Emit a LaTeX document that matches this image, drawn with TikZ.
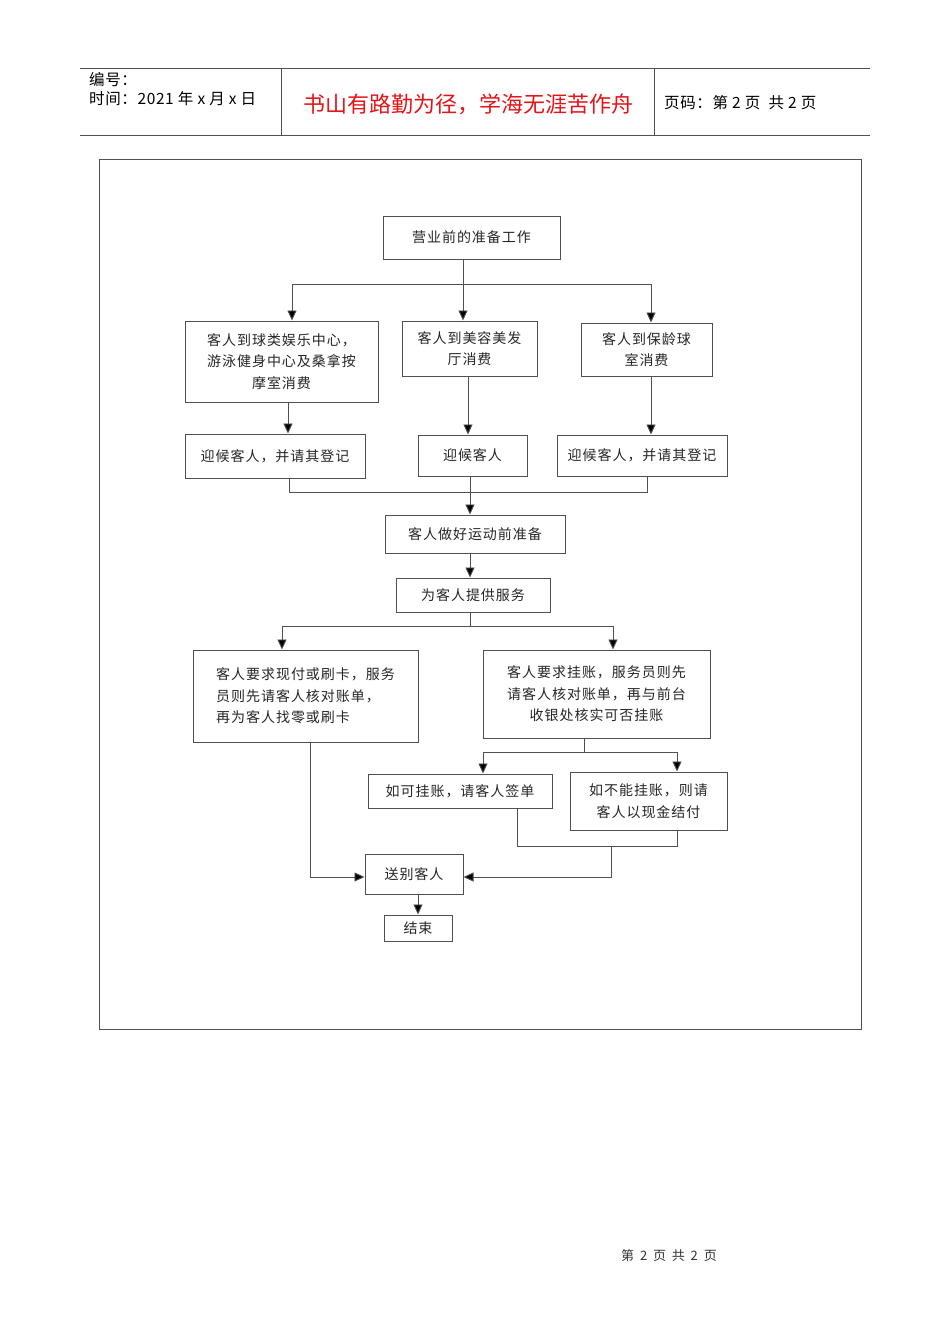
\documentclass[tikz,border=0pt]{standalone}
\usepackage{fontspec}
\usetikzlibrary{arrows.meta}
\newfontfamily\cjk{Noto Sans CJK SC}
\newfontfamily\cjkbox[LetterSpace=7]{Noto Sans CJK SC}
\newfontfamily\cjkhdr[LetterSpace=4]{Noto Sans CJK SC}
\newfontfamily\cjkbold[AutoFakeBold=1.5]{Noto Sans CJK SC}
\definecolor{hdrred}{RGB}{228,20,24}
\definecolor{linegray}{RGB}{80,80,80}
\tikzset{
  box/.style={draw=linegray, line width=1pt, rectangle, inner sep=0pt, align=center,
    font=\cjkbox\fontsize{14}{21.5}\selectfont, text=black!85},
  ln/.style={draw=linegray, line width=0.9pt},
  arr/.style={ln, -{Triangle[length=10pt,width=9pt,fill=black]}},
  frame/.style={draw=linegray, line width=1pt},
  hdr/.style={inner sep=0pt, font=\cjkhdr\fontsize{15.5}{18}\selectfont, anchor=west}
}
\begin{document}
\begin{tikzpicture}[x=1pt,y=-1pt]
\useasboundingbox (0,0) rectangle (950,1344);
\fill[white] (0,0) rectangle (950,1344);
% header
\draw[frame] (80,68) -- (870,68);
\draw[frame, line width=1.2pt] (80,135.5) -- (870,135.5);
\draw[frame] (281,68) -- (281,135.5);
\draw[frame] (654,68) -- (654,135.5);
\node[hdr] (h1) at (89,80) {编号：};
\node[hdr] (h2) at (89,99) {时间：2021 年 x 月 x 日};
\node[inner sep=0pt, font=\cjkbold\fontsize{22}{26}\selectfont, text=hdrred] (h3) at (468,104) {书山有路勤为径，学海无涯苦作舟};
\node[hdr] (h4) at (664,103) {页码：第 2 页\ \ 共 2 页};
% outer frame
\draw[frame] (99,159) rectangle (861,1029);
% boxes
\node[box, minimum width=177, minimum height=43] (b1) at (471.5,237.5) {营业前的准备工作};
\node[box, minimum width=193, minimum height=81] (b2) at (281.5,361.5) {客人到球类娱乐中心，\\游泳健身中心及桑拿按\\摩室消费};
\node[box, minimum width=135, minimum height=55] (b3) at (469.5,348.5) {客人到美容美发\\厅消费};
\node[box, minimum width=131, minimum height=53] (b4) at (646.5,349.5) {客人到保龄球\\室消费};
\node[box, minimum width=180, minimum height=44] (b5) at (275,456) {迎候客人，并请其登记};
\node[box, minimum width=109, minimum height=41] (b6) at (472.5,455.5) {迎候客人};
\node[box, minimum width=170, minimum height=41] (b7) at (642,455.5) {迎候客人，并请其登记};
\node[box, minimum width=180, minimum height=38] (b8) at (475,534) {客人做好运动前准备};
\node[box, minimum width=154, minimum height=34] (b9) at (473,595) {为客人提供服务};
\node[box, minimum width=225, minimum height=92, align=left] (b10) at (305.5,696) {客人要求现付或刷卡，服务\\员则先请客人核对账单，\\再为客人找零或刷卡};
\node[box, minimum width=227, minimum height=88] (b11) at (596.5,694) {客人要求挂账，服务员则先\\请客人核对账单，再与前台\\收银处核实可否挂账};
\node[box, minimum width=184, minimum height=34] (b12) at (460,791) {如可挂账，请客人签单};
\node[box, minimum width=157, minimum height=58] (b13) at (648.5,801) {如不能挂账，则请\\客人以现金结付};
\node[box, minimum width=98, minimum height=40] (b14) at (414,874) {送别客人};
\node[box, minimum width=68, minimum height=26] (b15) at (418,928) {结束};
% connectors: top fan-out
\coordinate (j1) at (463,284);
\coordinate (j1L) at (292,284);
\coordinate (j1R) at (651,284);
\coordinate (c1) at ([xshift=-8.5]b1.south);
\draw[ln] (c1) -- (j1);
\draw[ln] (j1L) -- (j1R);
\draw[arr] (j1L) -- (j1L |- b2.north);
\draw[arr] (j1) -- (j1 |- b3.north);
\draw[arr] (j1R) -- (j1R |- b4.north);
% to greeting boxes
\coordinate (c2) at ([xshift=6.5]b2.south);
\draw[arr] (c2) -- (c2 |- b5.north);
\coordinate (c3) at ([xshift=-1.5]b3.south);
\draw[arr] (c3) -- (c3 |- b6.north);
\coordinate (c4) at ([xshift=4.5]b4.south);
\draw[arr] (c4) -- (c4 |- b7.north);
% merge
\coordinate (m) at (470,492);
\coordinate (c5) at ([xshift=14]b5.south);
\coordinate (c7) at ([xshift=5]b7.south);
\draw[ln] (c5) |- (m);
\draw[ln] (c7) |- (m);
\draw[arr] (m |- b6.south) -- (m |- b8.north);
\draw[arr] (m |- b8.south) -- (m |- b9.north);
% second fan-out
\coordinate (j2) at (470,626);
\coordinate (j2L) at (282,626);
\coordinate (j2R) at (613,626);
\draw[ln] (j2 |- b9.south) -- (j2);
\draw[ln] (j2L) -- (j2R);
\draw[arr] (j2L) -- (j2L |- b10.north);
\draw[arr] (j2R) -- (j2R |- b11.north);
% third fan-out
\coordinate (j3) at (584,752);
\coordinate (j3L) at (483,752);
\coordinate (j3R) at (677,752);
\draw[ln] (j3 |- b11.south) -- (j3);
\draw[ln] (j3L) -- (j3R);
\draw[arr] (j3L) -- (j3L |- b12.north);
\draw[arr] (j3R) -- (j3R |- b13.north);
% merge to farewell
\coordinate (k1) at (517,846);
\coordinate (k2) at (677,846);
\coordinate (k3) at (611,846);
\draw[ln] (k1 |- b12.south) -- (k1) -- (k2) -- (k2 |- b13.south);
\draw[arr] (k3) |- ([yshift=-3]b14.east);
\coordinate (c10) at ([xshift=4.5]b10.south);
\draw[arr] (c10) |- ([yshift=-3]b14.west);
\draw[arr] (b15.north |- b14.south) -- (b15.north);
% footer
\node[inner sep=0pt, font=\cjk\fontsize{13}{15}\selectfont, text=black!80] (ft) at (669,1256) {第\ \ 2\ \ 页\ \ 共\ \ 2\ \ 页};
\end{tikzpicture}
\end{document}
